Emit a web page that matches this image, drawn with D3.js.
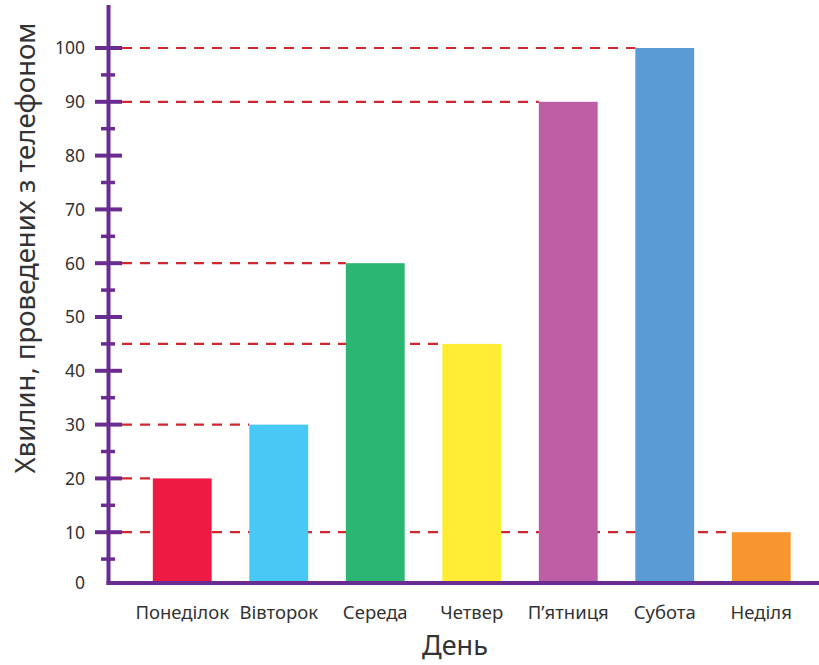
<!DOCTYPE html>
<html>
<head>
<meta charset="utf-8">
<script src="https://cdn.jsdelivr.net/npm/d3@7"></script>
<style>
  body { margin: 0; background: #fff; }
  text { font-family: "Noto Sans", "Open Sans", sans-serif; fill: #333; }
</style>
</head>
<body>
<div id="chart"></div>
<script>
// data
var days = ["Понеділок", "Вівторок", "Середа", "Четвер", "П’ятниця", "Субота", "Неділя"];
var minutes = [20, 30, 60, 45, 90, 100, 10];
var barColors = ["#ee1a43", "#48c9f5", "#2bb673", "#feed34", "#be5fa5", "#5b9bd5", "#f7962f"];
var majorTicks = [0, 10, 20, 30, 40, 50, 60, 70, 80, 90, 100];
var minorTicks = [5, 15, 25, 35, 45, 55, 65, 75, 85, 95];

var W = 819, H = 665;
var axisColor = "#6b2c91";

var svg = d3.select("#chart").append("svg")
  .attr("width", W).attr("height", H);

// scales
var y = d3.scaleLinear().domain([0, 100]).range([586, 48]);
var x = d3.scaleBand().domain(days).range([134, 809.5]).paddingInner(0.39).paddingOuter(0.195);

// dashed guide lines from axis to each bar
svg.selectAll(".guide")
  .data(days)
  .enter()
  .append("line")
  .attr("x1", 122)
  .attr("x2", function(d) { return x(d); })
  .attr("y1", function(d, i) { return y(minutes[i]); })
  .attr("y2", function(d, i) { return y(minutes[i]); })
  .style("stroke", "#d0262f")
  .style("stroke-width", 2.2)
  .style("stroke-dasharray", "10,8");

// bars
svg.selectAll(".bar")
  .data(days)
  .enter()
  .append("rect")
  .attr("x", function(d) { return x(d); })
  .attr("width", x.bandwidth())
  .attr("y", function(d, i) { return y(minutes[i]); })
  .attr("height", function(d, i) { return 583 - y(minutes[i]); })
  .style("fill", function(d, i) { return barColors[i]; });

// y axis line
svg.append("line")
  .attr("x1", 108.5).attr("x2", 108.5)
  .attr("y1", 5).attr("y2", 585)
  .style("stroke", axisColor).style("stroke-width", 4);

// x axis line
svg.append("line")
  .attr("x1", 106.5).attr("x2", W)
  .attr("y1", 583).attr("y2", 583)
  .style("stroke", axisColor).style("stroke-width", 4);

// major ticks (skip 0, it sits on the x axis)
svg.selectAll(".major")
  .data(majorTicks.filter(function(d) { return d > 0; }))
  .enter()
  .append("line")
  .attr("x1", 95).attr("x2", 122)
  .attr("y1", function(d) { return y(d); })
  .attr("y2", function(d) { return y(d); })
  .style("stroke", axisColor).style("stroke-width", 4);

// minor ticks
svg.selectAll(".minor")
  .data(minorTicks)
  .enter()
  .append("line")
  .attr("x1", 101).attr("x2", 115)
  .attr("y1", function(d) { return y(d); })
  .attr("y2", function(d) { return y(d); })
  .style("stroke", axisColor).style("stroke-width", 3.5);

// tick labels
svg.selectAll(".ylab")
  .data(majorTicks)
  .enter()
  .append("text")
  .attr("x", 85)
  .attr("y", function(d) { return d === 0 ? 583 : y(d); })
  .attr("dy", "0.36em")
  .attr("text-anchor", "end")
  .style("font-size", "17.5px")
  .text(function(d) { return d; });

// category labels
svg.selectAll(".xlab")
  .data(days)
  .enter()
  .append("text")
  .attr("x", function(d) { return x(d) + x.bandwidth() / 2; })
  .attr("y", 619)
  .attr("text-anchor", "middle")
  .style("font-size", "18.5px")
  .text(function(d) { return d; });

// axis titles
svg.append("text")
  .attr("x", 455).attr("y", 655)
  .attr("text-anchor", "middle")
  .style("font-size", "27px")
  .text("День");

svg.append("text")
  .attr("transform", "translate(35,248) rotate(-90)")
  .attr("text-anchor", "middle")
  .style("font-size", "27.5px")
  .text("Хвилин, проведених з телефоном");
</script>
</body>
</html>
